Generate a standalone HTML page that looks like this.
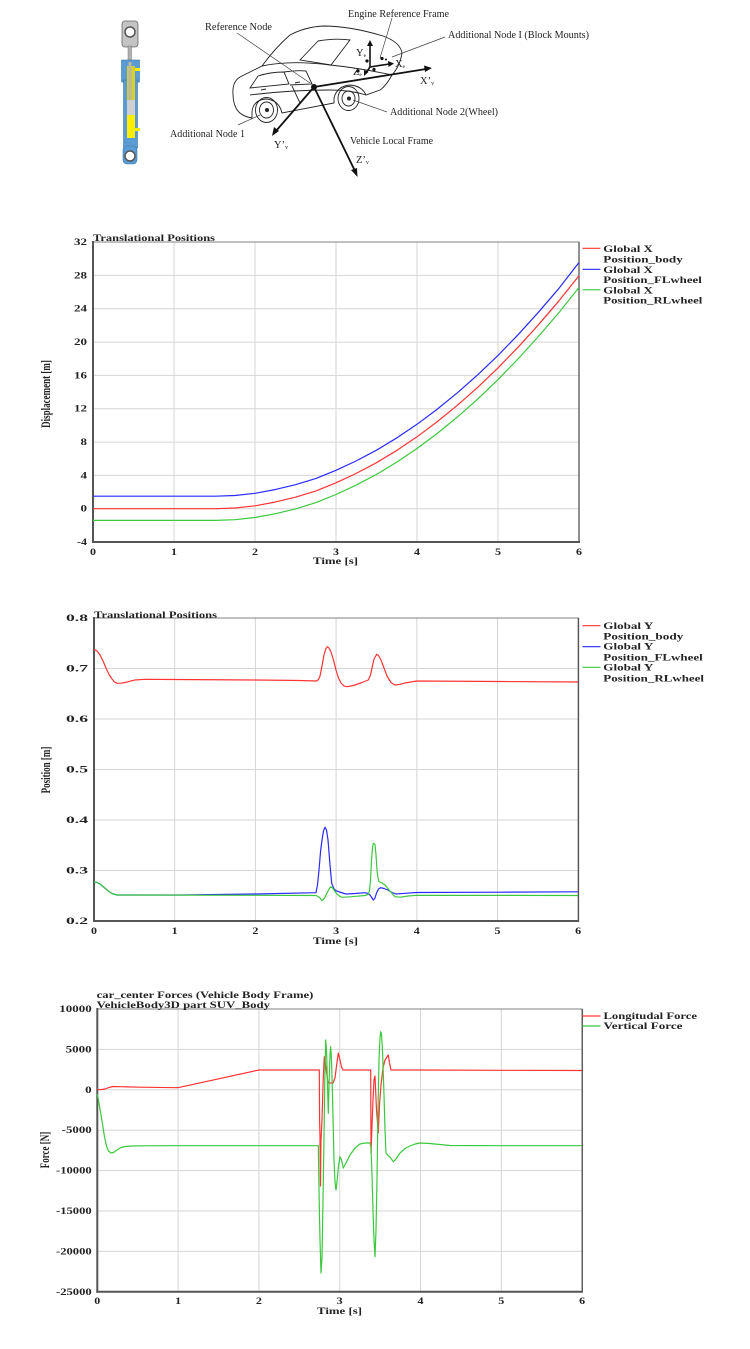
<!DOCTYPE html>
<html>
<head>
<meta charset="utf-8">
<style>
  html,body{margin:0;padding:0;background:#fff;}
  svg{display:block;}
  .t{font-family:"Liberation Serif",serif;font-weight:bold;font-size:9px;fill:#222;}
  .d{font-family:"Liberation Serif",serif;font-size:10.5px;fill:#222;}
  .g{stroke:#d6d6d6;stroke-width:1;fill:none;}
  .ax{stroke:#555;stroke-width:2;fill:none;}
  .fr{stroke:#808080;stroke-width:1;fill:none;}
  .s{fill:none;stroke-width:1.2;stroke-linejoin:round;}
</style>
</head>
<body>
<svg width="750" height="1349" viewBox="0 0 750 1349" xmlns="http://www.w3.org/2000/svg">
<rect width="750" height="1349" fill="#fff"/>

<!-- ============ TOP DIAGRAM ============ -->
<!-- shock absorber -->
<g>
  <rect x="122" y="21" width="16" height="26" rx="3" fill="#c4c4c4" stroke="#666" stroke-width="0.8"/>
  <circle cx="130" cy="32" r="5" fill="#fff" stroke="#555" stroke-width="1.5"/>
  <rect x="128" y="46" width="3.5" height="16" fill="#b0b0b0" stroke="#777" stroke-width="0.5"/>
  <rect x="121.5" y="60" width="18" height="22" fill="#5b9bd5" stroke="#3f77a8" stroke-width="0.6"/>
  <rect x="123.5" y="80" width="14" height="68" fill="#5b9bd5" stroke="#3f77a8" stroke-width="0.6"/>
  <rect x="127" y="66" width="8" height="34" fill="#d6cf2e"/>
  <rect x="128.5" y="62" width="3" height="40" fill="#b8b8a0"/>
  <rect x="127" y="100" width="8" height="15" fill="#cfcfcf"/>
  <rect x="127" y="115" width="8" height="23" fill="#ffee00"/>
  <rect x="135" y="68" width="5" height="3" fill="#ffee00"/>
  <rect x="135" y="128" width="5" height="3" fill="#ffee00"/>
  <rect x="123" y="146" width="14" height="18" rx="4" fill="#5b9bd5" stroke="#3f77a8" stroke-width="0.6"/>
  <circle cx="130" cy="156" r="5" fill="#fff" stroke="#555" stroke-width="1.5"/>
</g>

<!-- car -->
<g fill="none" stroke="#222" stroke-width="0.9">
  <path d="M233,94 Q232,82 240,77 L262,66 Q275,48 290,35 Q305,27 323,26 Q350,26 383,36 Q400,42 402,53 Q400,66 392,75 Q386,86 380,90 L366,95 Q362,86 350,85 Q337,86 334,98 L334,103 L282,113 Q279,100 266,99 Q253,100 252,112 L252,118 Q240,116 236,108 Q233,102 233,94 Z"/>
  <path d="M300,60 L318,41 Q335,38 350,40 L331,65 Z"/>
  <path d="M250,88 L258,76 Q270,72 284,72 L289,84 Z"/>
  <path d="M284,72 Q296,70 306,71 L312,84 L290,85"/>
  <path d="M262,66 Q290,60 330,65 Q360,68 392,75"/>
  <path d="M250,95 Q290,90 330,90 Q350,90 366,95"/>
  <path d="M292,86 L300,103"/>
  <line x1="261" y1="90" x2="266" y2="89"/>
  <line x1="295" y1="83" x2="300" y2="82"/>
  <ellipse cx="266.5" cy="110" rx="11" ry="12.5"/>
  <ellipse cx="266.5" cy="110" rx="7" ry="8"/>
  <ellipse cx="348.5" cy="98.5" rx="10.5" ry="12"/>
  <ellipse cx="348.5" cy="98.5" rx="6.5" ry="7.5"/>
</g>
<circle cx="267" cy="110" r="2" fill="#222"/>
<circle cx="349" cy="98.5" r="2" fill="#222"/>

<!-- leader lines -->
<g stroke="#444" stroke-width="0.7" fill="none">
  <line x1="237" y1="33" x2="310" y2="83"/>
  <line x1="392" y1="18" x2="380" y2="58"/>
  <line x1="445" y1="37" x2="392" y2="57"/>
  <line x1="387" y1="112" x2="353" y2="100"/>
  <line x1="238" y1="125" x2="260" y2="115"/>
</g>

<!-- vehicle frame arrows -->
<g stroke="#111" stroke-width="1.8" fill="#111">
  <line x1="314" y1="87" x2="426" y2="69"/>
  <polygon points="432,68 424,65.5 425,72" stroke="none"/>
  <line x1="314" y1="87" x2="276" y2="131"/>
  <polygon points="272,136 274,127 279,131" stroke="none"/>
  <line x1="314" y1="87" x2="355" y2="171"/>
  <polygon points="357.5,177 351,170 357,168" stroke="none"/>
</g>
<circle cx="314" cy="87" r="3" fill="#111"/>

<!-- engine frame -->
<g stroke="#111" stroke-width="1.6" fill="#111">
  <line x1="370" y1="67" x2="370" y2="45"/>
  <polygon points="370,40 367,46 373,46" stroke="none"/>
  <line x1="370" y1="67" x2="389" y2="64"/>
  <polygon points="394,63.5 388,61 388.5,67" stroke="none"/>
  <line x1="370" y1="67" x2="366" y2="73"/>
  <polygon points="364,76 364,70 368.5,72" stroke="none"/>
</g>
<g fill="#111">
  <circle cx="367" cy="61" r="1.6"/>
  <circle cx="382" cy="58.5" r="1.6"/>
  <circle cx="358" cy="71" r="1.6"/>
  <circle cx="374" cy="69.5" r="1.6"/>
  <circle cx="386" cy="59.5" r="1"/>
</g>

<!-- diagram labels -->
<text class="d" x="348" y="17" textLength="101" lengthAdjust="spacingAndGlyphs">Engine Reference Frame</text>
<text class="d" x="205" y="30" textLength="67" lengthAdjust="spacingAndGlyphs">Reference Node</text>
<text class="d" x="448" y="38" textLength="141" lengthAdjust="spacingAndGlyphs">Additional Node I (Block Mounts)</text>
<text class="d" x="390" y="115" textLength="108" lengthAdjust="spacingAndGlyphs">Additional Node 2(Wheel)</text>
<text class="d" x="170" y="137" textLength="75" lengthAdjust="spacingAndGlyphs">Additional Node 1</text>
<text class="d" x="350" y="144" textLength="83" lengthAdjust="spacingAndGlyphs">Vehicle Local Frame</text>
<text class="d" x="274" y="148">Y’<tspan font-size="6" dy="1">v</tspan></text>
<text class="d" x="356" y="163">Z’<tspan font-size="6" dy="1">v</tspan></text>
<text class="d" x="420" y="84">X’<tspan font-size="6" dy="1">v</tspan></text>
<text class="d" x="356" y="56" font-size="9.5">Y<tspan font-size="5.5" dy="1">e</tspan></text>
<text class="d" x="353" y="75" font-size="9.5">Z<tspan font-size="5.5" dy="1">e</tspan></text>
<text class="d" x="395" y="67" font-size="9.5">X<tspan font-size="5.5" dy="1">e</tspan></text>

<!-- ============ CHART 1 ============ -->
<g>
  <g class="g">
    <line x1="174" y1="242" x2="174" y2="542"/>
    <line x1="255" y1="242" x2="255" y2="542"/>
    <line x1="336" y1="242" x2="336" y2="542"/>
    <line x1="417" y1="242" x2="417" y2="542"/>
    <line x1="498" y1="242" x2="498" y2="542"/>
    <line x1="93" y1="275.4" x2="579" y2="275.4"/>
    <line x1="93" y1="308.7" x2="579" y2="308.7"/>
    <line x1="93" y1="342.1" x2="579" y2="342.1"/>
    <line x1="93" y1="375.4" x2="579" y2="375.4"/>
    <line x1="93" y1="408.7" x2="579" y2="408.7"/>
    <line x1="93" y1="442.1" x2="579" y2="442.1"/>
    <line x1="93" y1="475.4" x2="579" y2="475.4"/>
    <line x1="93" y1="508.7" x2="579" y2="508.7"/>
  </g>
  <rect class="fr" x="93" y="242" width="486" height="300"/>
  <line class="ax" x1="579" y1="242" x2="579" y2="543" style="stroke-width:1.3"/>
  <line class="ax" x1="93" y1="241" x2="93" y2="543"/>
  <line class="ax" x1="92" y1="542" x2="580" y2="542"/>

  <polyline class="s" stroke="#2a2aff" points="93,496.2 215.5,496.2 235,495.5 255,493.3 275,489.6 295.5,484.7 316,478.4 336,470.3 356,461 376.5,450.2 397,437.8 417,424.3 437,409.4 457.5,392.7 478,374.6 498,355.4 518,334.8 538.5,312.2 559,288.3 579,262.5"/>
  <polyline class="s" stroke="#ff3434" points="93,508.7 215.5,508.7 235,508 255,505.8 275,502.1 295.5,497.2 316,490.9 336,482.8 356,473.5 376.5,462.7 397,450.3 417,436.8 437,421.9 457.5,405.2 478,387.1 498,367.9 518,347.3 538.5,324.7 559,300.8 579,275.8"/>
  <polyline class="s" stroke="#3cc83c" points="93,520.4 215.5,520.4 235,519.7 255,517.5 275,513.8 295.5,508.9 316,502.6 336,494.5 356,485.2 376.5,474.4 397,462 417,448.5 437,433.6 457.5,416.9 478,398.8 498,379.6 518,359 538.5,336.4 559,312.5 579,287.5"/>

  <text class="t" x="93" y="241" textLength="122" lengthAdjust="spacingAndGlyphs">Translational Positions</text>
  <g text-anchor="end">
    <text class="t" x="87" y="245" textLength="13" lengthAdjust="spacingAndGlyphs">32</text>
    <text class="t" x="87" y="278.4" textLength="13" lengthAdjust="spacingAndGlyphs">28</text>
    <text class="t" x="87" y="311.7" textLength="13" lengthAdjust="spacingAndGlyphs">24</text>
    <text class="t" x="87" y="345.1" textLength="13" lengthAdjust="spacingAndGlyphs">20</text>
    <text class="t" x="87" y="378.4" textLength="13" lengthAdjust="spacingAndGlyphs">16</text>
    <text class="t" x="87" y="411.7" textLength="13" lengthAdjust="spacingAndGlyphs">12</text>
    <text class="t" x="87" y="445.1" textLength="6.5" lengthAdjust="spacingAndGlyphs">8</text>
    <text class="t" x="87" y="478.4" textLength="6.5" lengthAdjust="spacingAndGlyphs">4</text>
    <text class="t" x="87" y="511.7" textLength="6.5" lengthAdjust="spacingAndGlyphs">0</text>
    <text class="t" x="87" y="545" textLength="10" lengthAdjust="spacingAndGlyphs">-4</text>
  </g>
  <g text-anchor="middle">
    <text class="t" x="93" y="555" textLength="6" lengthAdjust="spacingAndGlyphs">0</text>
    <text class="t" x="174" y="555" textLength="6" lengthAdjust="spacingAndGlyphs">1</text>
    <text class="t" x="255" y="555" textLength="6" lengthAdjust="spacingAndGlyphs">2</text>
    <text class="t" x="336" y="555" textLength="6" lengthAdjust="spacingAndGlyphs">3</text>
    <text class="t" x="417" y="555" textLength="6" lengthAdjust="spacingAndGlyphs">4</text>
    <text class="t" x="498" y="555" textLength="6" lengthAdjust="spacingAndGlyphs">5</text>
    <text class="t" x="579" y="555" textLength="6" lengthAdjust="spacingAndGlyphs">6</text>
  </g>
  <text class="t" x="313" y="564" textLength="45" lengthAdjust="spacingAndGlyphs">Time [s]</text>
  <text class="t" text-anchor="middle" transform="translate(50,394) rotate(-90) scale(1,1.4)">Displacement [m]</text>

  <line x1="582.5" y1="248.3" x2="600.5" y2="248.3" stroke="#ff3434" stroke-width="1.2"/>
  <line x1="582.5" y1="269.3" x2="600.5" y2="269.3" stroke="#2a2aff" stroke-width="1.2"/>
  <line x1="582.5" y1="289.8" x2="600.5" y2="289.8" stroke="#3cc83c" stroke-width="1.2"/>
  <text class="t" x="603.3" y="252" textLength="49.5" lengthAdjust="spacingAndGlyphs">Global X</text>
  <text class="t" x="603.3" y="262.3" textLength="79.5" lengthAdjust="spacingAndGlyphs">Position_body</text>
  <text class="t" x="603.3" y="273" textLength="49.5" lengthAdjust="spacingAndGlyphs">Global X</text>
  <text class="t" x="603.3" y="283" textLength="98.5" lengthAdjust="spacingAndGlyphs">Position_FLwheel</text>
  <text class="t" x="603.3" y="293.7" textLength="49.5" lengthAdjust="spacingAndGlyphs">Global X</text>
  <text class="t" x="603.3" y="303.7" textLength="99" lengthAdjust="spacingAndGlyphs">Position_RLwheel</text>
</g>

<!-- ============ CHART 2 ============ -->
<g>
  <g class="g">
    <line x1="174.7" y1="618" x2="174.7" y2="921"/>
    <line x1="255.4" y1="618" x2="255.4" y2="921"/>
    <line x1="336.1" y1="618" x2="336.1" y2="921"/>
    <line x1="416.8" y1="618" x2="416.8" y2="921"/>
    <line x1="497.5" y1="618" x2="497.5" y2="921"/>
    <line x1="94" y1="668.5" x2="578.2" y2="668.5"/>
    <line x1="94" y1="719" x2="578.2" y2="719"/>
    <line x1="94" y1="769.5" x2="578.2" y2="769.5"/>
    <line x1="94" y1="820" x2="578.2" y2="820"/>
    <line x1="94" y1="870.5" x2="578.2" y2="870.5"/>
  </g>
  <rect class="fr" x="94" y="618" width="484.2" height="303"/>
  <line class="ax" x1="578.5" y1="618" x2="578.5" y2="922" style="stroke-width:1.3"/>
  <line class="ax" x1="94" y1="617" x2="94" y2="922"/>
  <line class="ax" x1="93" y1="921" x2="579" y2="921"/>

  <polyline class="s" stroke="#ff3434" points="94,649.3 97,651 100,655 103,661 106,668 109,674.5 112,679 114.5,682 117,683.3 121,683.2 125,682.5 130,681.2 135,680 145,679.3 175,679.5 256,680 300,680.5 316.7,681 318.5,679.5 320,676 322,666 324,655 325.7,649 327.3,646.7 329,648 331,652 333.5,660 336,670 338.5,678 341,683 344,686 346.7,686.7 351,686 355,685 362,682.5 368.3,680 370.5,675 372,668 374,659 376.7,654.3 378.5,655.5 381,660 384,668 387,676 391,682.5 395,685 400,684.3 405,683 416.7,681 500,681.5 578,682"/>
  <polyline class="s" stroke="#2a2aff" points="94,881.7 97,882.5 100,884 103,886.5 106,889 109,891.5 112,893.5 117,895 135,895 180,895 256,894 316,892.7 317.5,885 319,870 320.5,852 322,840 323.5,831 325,827.3 326.5,830 328,840 330,865 331.7,883.3 334,889 336,890.7 341,892.5 346,894 355,893.5 365,892.7 368,893.5 370,895 373.3,900 375,898 376.5,893 378.5,889 380.7,887.7 384,888.5 388,890 392,892.5 396,894 405,893.3 416.7,892.5 500,892.2 578,891.8"/>
  <polyline class="s" stroke="#3cc83c" points="94,881.7 97,882.5 100,884 103,886.5 106,889 109,891.5 112,893.5 117,895 135,895 256,895.3 316,895.5 318,896.5 320,898 322,900.7 324,899 326,895 328.5,890 330.7,886.7 333,888.5 336,893 339,895.8 342,897.3 350,896.8 365,895.5 368,894.5 369.5,891 370.5,880 371.5,860 372.5,848 373.3,843.3 375,844.5 376,855 377,870 378,878 379,881.7 382,883 385,885 390,891 395,896.7 400,897.2 408,896 416.7,895.3 500,895.4 578,895.5"/>

  <text class="t" x="94" y="618" textLength="123" lengthAdjust="spacingAndGlyphs">Translational Positions</text>
  <g text-anchor="end">
    <text class="t" x="88" y="621" textLength="22" lengthAdjust="spacingAndGlyphs">0.8</text>
    <text class="t" x="88" y="671.5" textLength="22" lengthAdjust="spacingAndGlyphs">0.7</text>
    <text class="t" x="88" y="722" textLength="22" lengthAdjust="spacingAndGlyphs">0.6</text>
    <text class="t" x="88" y="772.5" textLength="22" lengthAdjust="spacingAndGlyphs">0.5</text>
    <text class="t" x="88" y="823" textLength="22" lengthAdjust="spacingAndGlyphs">0.4</text>
    <text class="t" x="88" y="873.5" textLength="22" lengthAdjust="spacingAndGlyphs">0.3</text>
    <text class="t" x="88" y="924" textLength="22" lengthAdjust="spacingAndGlyphs">0.2</text>
  </g>
  <g text-anchor="middle">
    <text class="t" x="94" y="934" textLength="6" lengthAdjust="spacingAndGlyphs">0</text>
    <text class="t" x="174.7" y="934" textLength="6" lengthAdjust="spacingAndGlyphs">1</text>
    <text class="t" x="255.4" y="934" textLength="6" lengthAdjust="spacingAndGlyphs">2</text>
    <text class="t" x="336.1" y="934" textLength="6" lengthAdjust="spacingAndGlyphs">3</text>
    <text class="t" x="416.8" y="934" textLength="6" lengthAdjust="spacingAndGlyphs">4</text>
    <text class="t" x="497.5" y="934" textLength="6" lengthAdjust="spacingAndGlyphs">5</text>
    <text class="t" x="578.2" y="934" textLength="6" lengthAdjust="spacingAndGlyphs">6</text>
  </g>
  <text class="t" x="313" y="944" textLength="45" lengthAdjust="spacingAndGlyphs">Time [s]</text>
  <text class="t" text-anchor="middle" transform="translate(50,770) rotate(-90) scale(1,1.4)">Position [m]</text>

  <line x1="582.5" y1="625.7" x2="600.5" y2="625.7" stroke="#ff3434" stroke-width="1.2"/>
  <line x1="582.5" y1="646.7" x2="600.5" y2="646.7" stroke="#2a2aff" stroke-width="1.2"/>
  <line x1="582.5" y1="667.3" x2="600.5" y2="667.3" stroke="#3cc83c" stroke-width="1.2"/>
  <text class="t" x="603.3" y="629" textLength="50" lengthAdjust="spacingAndGlyphs">Global Y</text>
  <text class="t" x="603.3" y="639.7" textLength="80" lengthAdjust="spacingAndGlyphs">Position_body</text>
  <text class="t" x="603.3" y="649.7" textLength="50" lengthAdjust="spacingAndGlyphs">Global Y</text>
  <text class="t" x="603.3" y="660.3" textLength="99.4" lengthAdjust="spacingAndGlyphs">Position_FLwheel</text>
  <text class="t" x="603.3" y="670.3" textLength="50" lengthAdjust="spacingAndGlyphs">Global Y</text>
  <text class="t" x="603.3" y="681.3" textLength="100.7" lengthAdjust="spacingAndGlyphs">Position_RLwheel</text>
</g>

<!-- ============ CHART 3 ============ -->
<g>
  <g class="g">
    <line x1="178.1" y1="1009" x2="178.1" y2="1291.8"/>
    <line x1="258.9" y1="1009" x2="258.9" y2="1291.8"/>
    <line x1="339.7" y1="1009" x2="339.7" y2="1291.8"/>
    <line x1="420.5" y1="1009" x2="420.5" y2="1291.8"/>
    <line x1="501.3" y1="1009" x2="501.3" y2="1291.8"/>
    <line x1="97.3" y1="1049.4" x2="582" y2="1049.4"/>
    <line x1="97.3" y1="1089.8" x2="582" y2="1089.8"/>
    <line x1="97.3" y1="1130.2" x2="582" y2="1130.2"/>
    <line x1="97.3" y1="1170.6" x2="582" y2="1170.6"/>
    <line x1="97.3" y1="1211" x2="582" y2="1211"/>
    <line x1="97.3" y1="1251.4" x2="582" y2="1251.4"/>
  </g>
  <rect class="fr" x="97.3" y="1009" width="484.7" height="282.8"/>
  <line class="ax" x1="582.3" y1="1009" x2="582.3" y2="1292.5" style="stroke-width:1.3"/>
  <line class="ax" x1="97.3" y1="1008" x2="97.3" y2="1292.8"/>
  <line class="ax" x1="96.3" y1="1291.8" x2="583" y2="1291.8"/>

  <polyline class="s" stroke="#ff3434" points="97.3,1089.7 101,1089.6 105,1089 109,1087.5 113,1086.5 120,1086.7 140,1087.2 178,1087.7 258.9,1070 319.3,1070 319.6,1120 320,1136.7 320.5,1186 321,1140 322,1120 323.2,1080 324.3,1056.7 326,1068 328,1083 333,1083 335,1078 336.5,1066 338.3,1053 340,1060 341.5,1067 343,1070 370.7,1070 371,1153 372,1125 373,1100 374,1080 375,1076 376.5,1110 378.3,1133 379.5,1105 381,1085 383,1068 385,1060 388.3,1055 389.5,1063 391,1070 420,1070 500,1070.3 582,1070.5"/>
  <polyline class="s" stroke="#3cc83c" points="97.3,1094 99,1103 100.5,1112 102.5,1124 104.5,1137 106.5,1146 108.5,1151 111,1153 113.5,1152.5 117,1150 121,1147.5 125,1146.5 132,1146 145,1145.8 170,1145.7 318.3,1145.7 319.3,1206.7 320,1240 321,1273 322,1258 323,1200 323.8,1150 324.8,1080 325.7,1040 326.5,1050 327.5,1085 328.3,1113.3 329.2,1080 330,1055 330.7,1046.7 331.5,1060 332.5,1095 334,1160 335,1182 336,1190 337,1182 338.5,1166 340,1156.7 341.5,1160 343.3,1168 346,1163 350,1155 355,1148 360,1144 365,1143 370,1143 371,1148 372,1175 373,1210 374,1240 375,1256.7 376,1230 377,1180 378,1110 379,1060 380,1038 380.7,1031.7 381.5,1034 382.5,1050 384,1095 385,1130 386,1153 388,1155.5 390,1157 393.3,1161.7 396,1159 400,1153 405,1148.5 410,1146 415,1144 420,1143 430,1143.5 450,1145.5 500,1145.7 582,1145.7"/>

  <text class="t" x="96.7" y="998" textLength="216.6" lengthAdjust="spacingAndGlyphs">car_center Forces (Vehicle Body Frame)</text>
  <text class="t" x="96.7" y="1008" textLength="173.3" lengthAdjust="spacingAndGlyphs">VehicleBody3D part SUV_Body</text>
  <g text-anchor="end">
    <text class="t" x="91.7" y="1012" textLength="32.4" lengthAdjust="spacingAndGlyphs">10000</text>
    <text class="t" x="91.7" y="1052.4" textLength="26" lengthAdjust="spacingAndGlyphs">5000</text>
    <text class="t" x="91.7" y="1092.8" textLength="6.5" lengthAdjust="spacingAndGlyphs">0</text>
    <text class="t" x="91.7" y="1133.2" textLength="30" lengthAdjust="spacingAndGlyphs">-5000</text>
    <text class="t" x="91.7" y="1173.6" textLength="35.7" lengthAdjust="spacingAndGlyphs">-10000</text>
    <text class="t" x="91.7" y="1214" textLength="35.7" lengthAdjust="spacingAndGlyphs">-15000</text>
    <text class="t" x="91.7" y="1254.4" textLength="35.7" lengthAdjust="spacingAndGlyphs">-20000</text>
    <text class="t" x="91.7" y="1294.8" textLength="35.7" lengthAdjust="spacingAndGlyphs">-25000</text>
  </g>
  <g text-anchor="middle">
    <text class="t" x="97.3" y="1304" textLength="6" lengthAdjust="spacingAndGlyphs">0</text>
    <text class="t" x="178.1" y="1304" textLength="6" lengthAdjust="spacingAndGlyphs">1</text>
    <text class="t" x="258.9" y="1304" textLength="6" lengthAdjust="spacingAndGlyphs">2</text>
    <text class="t" x="339.7" y="1304" textLength="6" lengthAdjust="spacingAndGlyphs">3</text>
    <text class="t" x="420.5" y="1304" textLength="6" lengthAdjust="spacingAndGlyphs">4</text>
    <text class="t" x="501.3" y="1304" textLength="6" lengthAdjust="spacingAndGlyphs">5</text>
    <text class="t" x="582.1" y="1304" textLength="6" lengthAdjust="spacingAndGlyphs">6</text>
  </g>
  <text class="t" x="317" y="1314" textLength="45" lengthAdjust="spacingAndGlyphs">Time [s]</text>
  <text class="t" text-anchor="middle" transform="translate(49,1150) rotate(-90) scale(1,1.4)">Force [N]</text>

  <line x1="582.5" y1="1016" x2="600.5" y2="1016" stroke="#ff3434" stroke-width="1.2"/>
  <line x1="582.5" y1="1026" x2="600.5" y2="1026" stroke="#3cc83c" stroke-width="1.2"/>
  <text class="t" x="603.5" y="1019" textLength="93.5" lengthAdjust="spacingAndGlyphs">Longitudal Force</text>
  <text class="t" x="603.5" y="1029" textLength="79" lengthAdjust="spacingAndGlyphs">Vertical Force</text>
</g>
</svg>
</body>
</html>
